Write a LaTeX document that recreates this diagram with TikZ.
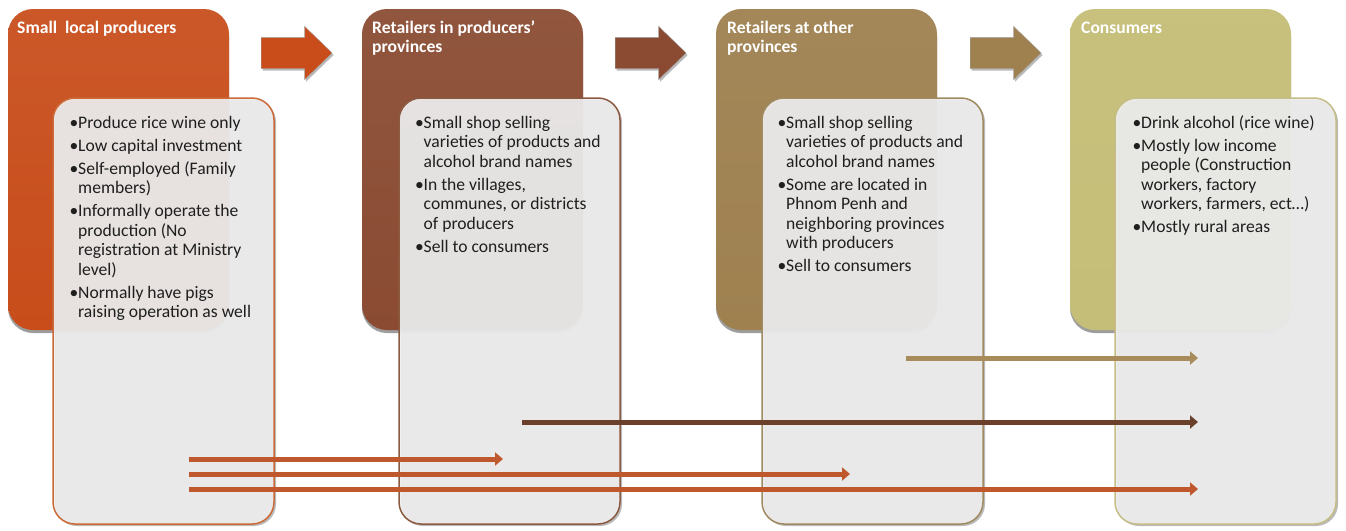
\documentclass[tikz,border=0pt]{standalone}
\usepackage{fontspec}
\setmainfont{Carlito}
\usetikzlibrary{shapes.arrows,shadows,arrows.meta}

% stage colours
\definecolor{cProd}{HTML}{C84D1B}
\definecolor{cRetA}{HTML}{8A4B32}
\definecolor{cRetB}{HTML}{9F8150}
\definecolor{cCons}{HTML}{C5BE78}
% card borders
\definecolor{bProd}{HTML}{CC6A38}
\definecolor{bRetA}{HTML}{8B5A40}
\definecolor{bRetB}{HTML}{A08A60}
\definecolor{bCons}{HTML}{C5BD85}
% flow lines
\definecolor{lProd}{HTML}{C0582D}
\definecolor{lRetA}{HTML}{6B402A}
\definecolor{lRetB}{HTML}{A88B5A}
\definecolor{cardfill}{HTML}{EEEEEE}
\definecolor{bodytext}{HTML}{1F1F1F}

\newcommand\bul{\makebox[8.5pt][l]{\textbullet}}
\newcommand\ind{\hspace*{8.5pt}}

\begin{document}
\begin{tikzpicture}[x=1pt,y=-1pt,
  stagebox/.style={rectangle, rounded corners=25pt, minimum width=221pt,
    minimum height=321pt, inner sep=0pt, draw=none,
    drop shadow={shadow xshift=0pt, shadow yshift=-3pt, opacity=0.55, fill=black!70}},
  card/.style={rectangle, rounded corners=22pt, minimum width=221pt,
    minimum height=426pt, inner sep=0pt, fill=cardfill, fill opacity=0.92,
    line width=1.5pt,
    drop shadow={shadow xshift=2pt, shadow yshift=-2pt, opacity=0.45, fill=black!60}},
  title/.style={anchor=base west, inner sep=0pt, text=white,
    font=\fontsize{17.6}{19.5}\selectfont\bfseries},
  body/.style={anchor=base west, inner sep=0pt, text=bodytext,
    font=\fontsize{17.6}{19.5}\selectfont},
  bigarrow/.style={single arrow, anchor=tail, minimum height=71pt, inner xsep=0pt,
    inner ysep=15.5pt, single arrow head extend=11pt, single arrow tip angle=88,
    draw=black!35, line width=0.4pt,
    drop shadow={shadow xshift=1.5pt, shadow yshift=-2pt, opacity=0.45, fill=black!60}},
  flow/.style={line width=5pt, -{Triangle[length=8pt,width=13pt]}},
]
\useasboundingbox (0,0) rectangle (1346,530);

% stage boxes
\node[stagebox, top color=cProd!94!white, bottom color=cProd] (prod) at (118.5,169.5) {};
\node[stagebox, top color=cRetA!94!white, bottom color=cRetA] (retA) at (472.5,169.5) {};
\node[stagebox, top color=cRetB!95!white, bottom color=cRetB] (retB) at (826.5,169.5) {};
\node[stagebox, top color=cCons!96!white, bottom color=cCons] (cons) at (1180.5,169.5) {};

% stage titles
\node[title] (tProd) at (17,33) {Small\ \ local producers};
\node[title] (tRetA) at (372,33) {\begin{tabular}[t]{@{}l@{}}Retailers in producers’\\provinces\end{tabular}};
\node[title] (tRetB) at (727,33) {\begin{tabular}[t]{@{}l@{}}Retailers at other\\provinces\end{tabular}};
\node[title] (tCons) at (1081,33) {Consumers};

% arrows between stages
\node[bigarrow, fill=cProd] (aProd) at (261,53) {};
\node[bigarrow, fill=cRetA] (aRetA) at (615,53) {};
\node[bigarrow, fill=cRetB] (aRetB) at (970,53) {};

% description cards
\node[card, draw=bProd] (cProdC) at (163.5,311) {};
\node[card, draw=bRetA] (cRetAC) at (509.5,311) {};
\node[card, draw=bRetB] (cRetBC) at (872.5,311) {};
\node[card, draw=bCons] (cConsC) at (1225.5,311) {};

% card texts
\node[body] (xProd) at (69.5,128) {\begin{tabular}[t]{@{}l@{}}
\bul Produce rice wine only\\[3.5pt]
\bul Low capital investment\\[3.5pt]
\bul Self-employed (Family\\
\ind members)\\[3.5pt]
\bul Informally operate the\\
\ind production (No\\
\ind registration at Ministry\\
\ind level)\\[3.5pt]
\bul Normally have pigs\\
\ind raising operation as well
\end{tabular}};

\node[body] (xRetA) at (415,128) {\begin{tabular}[t]{@{}l@{}}
\bul Small shop selling\\
\ind varieties of products and\\
\ind alcohol brand names\\[3.5pt]
\bul In the villages,\\
\ind communes, or districts\\
\ind of producers\\[3.5pt]
\bul Sell to consumers
\end{tabular}};

\node[body] (xRetB) at (777.5,128) {\begin{tabular}[t]{@{}l@{}}
\bul Small shop selling\\
\ind varieties of products and\\
\ind alcohol brand names\\[3.5pt]
\bul Some are located in\\
\ind Phnom Penh and\\
\ind neighboring provinces\\
\ind with producers\\[3.5pt]
\bul Sell to consumers
\end{tabular}};

\node[body] (xCons) at (1132.5,128) {\begin{tabular}[t]{@{}l@{}}
\bul Drink alcohol (rice wine)\\[3.5pt]
\bul Mostly low income\\
\ind people (Construction\\
\ind workers, factory\\
\ind workers, farmers, ect…)\\[3.5pt]
\bul Mostly rural areas
\end{tabular}};

% flow line end points
\coordinate (fRetBs) at (906,358);
\coordinate (fRetBe) at (1198,358);
\coordinate (fRetAs) at (522,422);
\coordinate (fRetAe) at (1198,422);
\coordinate (fP1s) at (189,459);
\coordinate (fP1e) at (503,459);
\coordinate (fP2s) at (189,474);
\coordinate (fP2e) at (850,474);
\coordinate (fP3s) at (189,489);
\coordinate (fP3e) at (1198,489);

% flow lines
\draw[flow, draw=lRetB, fill=lRetB] (fRetBs) -- (fRetBe);
\draw[flow, draw=lRetA, fill=lRetA] (fRetAs) -- (fRetAe);
\draw[flow, draw=lProd, fill=lProd] (fP1s) -- (fP1e);
\draw[flow, draw=lProd, fill=lProd] (fP2s) -- (fP2e);
\draw[flow, draw=lProd, fill=lProd] (fP3s) -- (fP3e);
\end{tikzpicture}
\end{document}
